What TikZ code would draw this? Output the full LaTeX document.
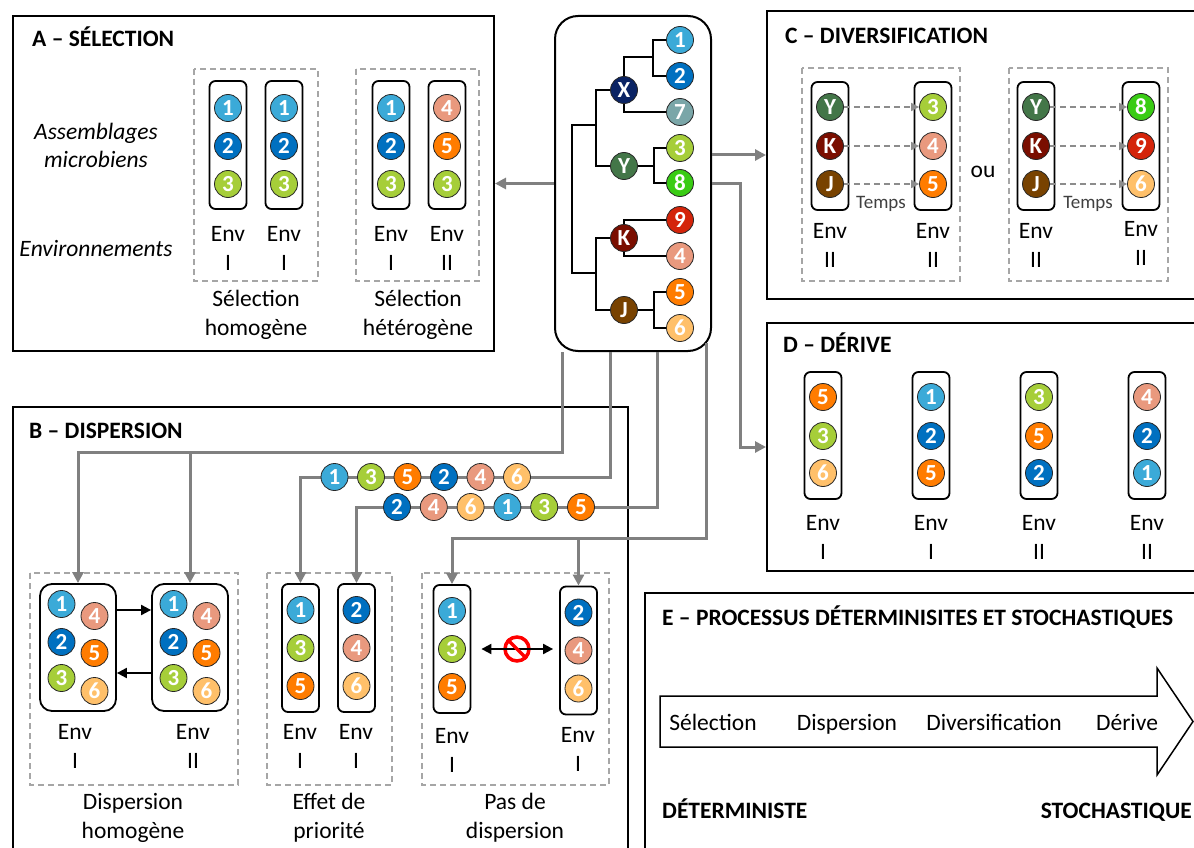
\documentclass[tikz,border=0pt]{standalone}
\usepackage{fontspec}
\setmainfont{Carlito}
\usetikzlibrary{arrows.meta,calc}

\definecolor{c1}{RGB}{59,170,216}
\definecolor{c2}{RGB}{0,112,192}
\definecolor{c3}{RGB}{166,206,57}
\definecolor{c4}{RGB}{233,153,126}
\definecolor{c5}{RGB}{255,124,0}
\definecolor{c6}{RGB}{255,192,106}
\definecolor{c7}{RGB}{122,166,168}
\definecolor{c8}{RGB}{57,204,20}
\definecolor{c9}{RGB}{212,36,10}
\definecolor{cX}{RGB}{10,35,100}
\definecolor{cY}{RGB}{67,118,72}
\definecolor{cK}{RGB}{122,14,0}
\definecolor{cJ}{RGB}{120,66,0}

\begin{document}
\begin{tikzpicture}[x=1pt,y=-1pt,
  panel/.style={draw, line width=2pt, inner sep=0pt},
  titre/.style={anchor=base west, inner sep=0pt, font=\bfseries\fontsize{23.5}{26}\selectfont},
  groupe/.style={draw=black!35, line width=1.6pt, dash pattern=on 6pt off 4pt},
  tube/.style={draw, line width=1.8pt, rounded corners=6pt, minimum width=37pt, minimum height=128pt, inner sep=0pt},
  boite/.style={draw, line width=1.8pt, rounded corners=12pt, minimum width=76pt, minimum height=127pt, inner sep=0pt},
  bille/.style={circle, fill=#1, draw=black!85, line width=0.8pt, minimum size=27pt, inner sep=0pt, text=white, font=\bfseries\fontsize{23}{23}\selectfont},
  etiq/.style={align=center, inner sep=0pt, font=\fontsize{23.5}{29}\selectfont},
  branche/.style={draw, line width=2pt},
  conn/.style={draw=black!50, line width=3pt},
  fleche/.style={-{Triangle[length=11pt,width=11pt]}},
  temps/.style={draw=black!45, line width=1.6pt, dash pattern=on 6pt off 4pt, -{Triangle[length=8pt,width=8pt]}},
  noir/.style={draw, line width=2pt, -{Triangle[length=10pt,width=10pt]}}
]
\useasboundingbox (0,0) rectangle (1194,848);
\clip (0,0) rectangle (1194,848);
\fill[white] (0,0) rectangle (1194,848);

% panneaux
\node[panel, minimum width=481pt, minimum height=335pt] (pA) at (253.5,183.5) {};
\node[panel, minimum width=615pt, minimum height=493pt] (pB) at (320.5,653.5) {};
\node[panel, minimum width=483pt, minimum height=288pt] (pC) at (1008.5,155) {};
\node[panel, minimum width=483pt, minimum height=248pt] (pD) at (1008.5,447) {};
\node[panel, minimum width=605pt, minimum height=307pt] (pE) at (947.5,746.5) {};

% A - selection
\node[titre] (tA) at (32,47) {A – SÉLECTION};
\node[etiq, font=\itshape\fontsize{23.5}{28}\selectfont] (assemb) at (96,145) {Assemblages\\microbiens};
\node[etiq, font=\itshape\fontsize{23.5}{28}\selectfont] (envts) at (96,249) {Environnements};
\draw[groupe] (194,69) rectangle (318,281);
\draw[groupe] (356,69) rectangle (479,281);
\foreach \n/\x/\a/\b/\c/\e in {sa1/228/1/2/3/I, sa2/284/1/2/3/I, sa3/391/1/2/3/I, sa4/447/4/5/3/II} {
  \node[tube] (\n) at (\x,145) {};
  \node[bille=c\a] (\n-1) at (\x,108) {\a};
  \node[bille=c\b] (\n-2) at (\x,146) {\b};
  \node[bille=c\c] (\n-3) at (\x,184) {\c};
  \node[etiq] (\n-env) at (\x,248.5) {Env\\\e};
}
\node[etiq] (homA) at (256,315) {Sélection\\homogène};
\node[etiq] (hetA) at (418,315) {Sélection\\hétérogène};

% arbre
\node[draw, line width=2pt, rounded corners=23pt, fill=white, minimum width=156pt, minimum height=335pt] (arbre) at (633,183.5) {};
\foreach \v/\y in {1/40, 2/76, 7/112, 3/148, 8/183, 9/220, 4/256, 5/292, 6/328}
  \node[bille=c\v] (f\v) at (680,\y) {\v};
\node[bille=cX] (X) at (624,90) {X};
\node[bille=cY] (Y) at (624,166) {Y};
\node[bille=cK] (K) at (624,238) {K};
\node[bille=cJ] (J) at (624,310) {J};
\coordinate (nXY) at (596,125);
\coordinate (nKJ) at (596,273);
\draw[branche] (X) |- (653,57);
\draw[branche] (f1) -| (653,57) |- (f2);
\draw[branche] (X) |- (f7);
\draw[branche] (Y) -- (654,166);
\draw[branche] (f3) -| (654,166) |- (f8);
\draw[branche] (f9) -| (K) |- (f4);
\draw[branche] (J) -- (654,310);
\draw[branche] (f5) -| (654,310) |- (f6);
\draw[branche] (X) -| (nXY) |- (Y);
\draw[branche] (K) -| (nKJ) |- (J);
\draw[branche] (nXY) -- (572,125) -- (572,273) -- (nKJ);

% C - diversification
\node[titre] (tC) at (785,44) {C – DIVERSIFICATION};
\draw[groupe] (802,68) rectangle (960,281);
\draw[groupe] (1009,68) rectangle (1168,281);
\foreach \n/\x/\a/\b/\c/\e in {dv1/830/Y/K/J/245.5, dv2/933/3/4/5/245.5, dv3/1036/Y/K/J/245.5, dv4/1141/8/9/6/243.5} {
  \node[tube] (\n) at (\x,146) {};
  \node[bille=c\a] (\n-1) at (\x,107) {\a};
  \node[bille=c\b] (\n-2) at (\x,146) {\b};
  \node[bille=c\c] (\n-3) at (\x,184) {\c};
  \node[etiq] (\n-env) at (\x,\e) {Env\\II};
}
\foreach \i in {1,2,3} {
  \draw[temps] (dv1-\i) -- (dv2-\i);
  \draw[temps] (dv3-\i) -- (dv4-\i);
}
\node[etiq, font=\fontsize{19}{20}\selectfont, text=black!75] (temps1) at (881,204) {Temps};
\node[etiq, font=\fontsize{19}{20}\selectfont, text=black!75] (temps2) at (1088,204) {Temps};
\node[etiq] (ou) at (983,172) {ou};

% D - derive
\node[titre] (tD) at (783,352) {D – DÉRIVE};
\foreach \n/\x/\a/\b/\c/\e in {dr1/823/5/3/6/I, dr2/931/1/2/5/I, dr3/1039/3/5/2/II, dr4/1147/4/2/1/II} {
  \node[tube, minimum height=127pt] (\n) at (\x,435.5) {};
  \node[bille=c\a] (\n-1) at (\x,397) {\a};
  \node[bille=c\b] (\n-2) at (\x,436) {\b};
  \node[bille=c\c] (\n-3) at (\x,473) {\c};
  \node[etiq] (\n-env) at (\x,537) {Env\\\e};
}

% B - dispersion
\node[titre] (tB) at (29,438) {B – DISPERSION};
\draw[groupe] (30,573) rectangle (238,785);
\draw[groupe] (267,573) rectangle (392,785);
\draw[groupe] (422,573) rectangle (609,785);
\foreach \n/\x in {pb1/78, pb2/190} {
  \node[boite] (\n) at (\x,647.5) {};
  \node[bille=c1] (\n-1) at (\x-16.5,604) {1};
  \node[bille=c2] (\n-2) at (\x-16.5,642) {2};
  \node[bille=c3] (\n-3) at (\x-16.5,678) {3};
  \node[bille=c4] (\n-4) at (\x+16.5,616) {4};
  \node[bille=c5] (\n-5) at (\x+16.5,653) {5};
  \node[bille=c6] (\n-6) at (\x+16.5,691) {6};
}
\draw[noir] ([yshift=37.5pt]pb1.east) -- ([yshift=37.5pt]pb2.west);
\draw[noir] ([yshift=-25.5pt]pb2.west) -- ([yshift=-25.5pt]pb1.east);
\node[etiq] (pb1-env) at (75,746.5) {Env\\I};
\node[etiq] (pb2-env) at (193,746.5) {Env\\II};
\foreach \n/\x/\y/\a/\b/\c in {pc1/300.5/648/1/3/5, pc2/356.5/648/2/4/6, pd1/452/649/1/3/5, pd2/578.5/650.5/2/4/6} {
  \node[tube] (\n) at (\x,\y) {};
  \node[bille=c\a] (\n-1) at (\x,\y-38) {\a};
  \node[bille=c\b] (\n-2) at (\x,\y) {\b};
  \node[bille=c\c] (\n-3) at (\x,\y+38) {\c};
}
\node[etiq] (pc1-env) at (300,746.5) {Env\\I};
\node[etiq] (pc2-env) at (356,746.5) {Env\\I};
\node[etiq] (pd1-env) at (452,750.5) {Env\\I};
\node[etiq] (pd2-env) at (578,749) {Env\\I};
\node[circle, draw=red, line width=3.5pt, minimum size=24pt, inner sep=0pt] (interdit) at (517,649) {};
\draw[line width=2pt, {Triangle[length=10pt,width=10pt]}-{Triangle[length=10pt,width=10pt]}, shorten <=10pt, shorten >=6pt]
  (pd1.east |- interdit) -- (pd2.west |- interdit);
\draw[red, line width=3.5pt] (interdit.north west) -- (interdit.south east);
\node[etiq] (homB) at (133,818) {Dispersion\\homogène};
\node[etiq] (prio) at (329,818) {Effet de\\priorité};
\node[etiq] (pasd) at (515,818) {Pas de\\dispersion};

% connecteurs depuis l'arbre
\coordinate (t1) at ([xshift=-71pt]arbre.south);
\coordinate (t2) at ([xshift=-23pt]arbre.south);
\coordinate (t3) at ([xshift=24pt]arbre.south);
\coordinate (t4) at ([xshift=73pt,yshift=9pt]arbre.south);
\coordinate (h1) at (0,452);
\coordinate (h2) at (0,477);
\coordinate (h3) at (0,507);
\coordinate (h4) at (0,538);
\draw[conn,fleche] (arbre.west) -- (pA.east);
\draw[conn,fleche] (arbre.east |- pC.west) -- (pC.west);
\draw[conn,fleche] (arbre.east) -- ++(28,0) |- (pD.west);
\draw[conn,fleche] (t1) |- (pb1.north |- h1) -- (pb1.north);
\draw[conn,fleche] (pb2.north |- h1) -- (pb2.north);
\draw[conn,fleche] (t2) |- (pc1.north |- h2) -- (pc1.north);
\draw[conn,fleche] (t3) |- (pc2.north |- h3) -- (pc2.north);
\draw[conn,fleche] (t4) |- (pd1.north |- h4) -- (pd1.north);
\draw[conn,fleche] (pd2.north |- h4) -- (pd2.north);
\foreach \k/\v in {0/1, 1/3, 2/5, 3/2, 4/4, 5/6}
  \node[bille=c\v] (r1-\k) at (334.5+36.5*\k,477) {\v};
\foreach \k/\v in {0/2, 1/4, 2/6, 3/1, 4/3, 5/5}
  \node[bille=c\v] (r2-\k) at (397+36.8*\k,507) {\v};

% E - processus
\node[titre] (tE) at (662,625) {E – PROCESSUS DÉTERMINISITES ET STOCHASTIQUES};
\draw[line width=1.5pt] (660,696) -- (1157,696) -- (1157,668) -- (1193,721.5) -- (1157,775) -- (1157,747) -- (660,747) -- cycle;
\node[etiq, anchor=base] (e1) at (713,730) {Sélection};
\node[etiq, anchor=base] (e2) at (847,730) {Dispersion};
\node[etiq, anchor=base] (e3) at (994,730) {Diversification};
\node[etiq, anchor=base] (e4) at (1127,730) {Dérive};
\node[titre] (det) at (662,818) {DÉTERMINISTE};
\node[titre, anchor=base east] (sto) at (1192,818) {STOCHASTIQUE};
\end{tikzpicture}
\end{document}
